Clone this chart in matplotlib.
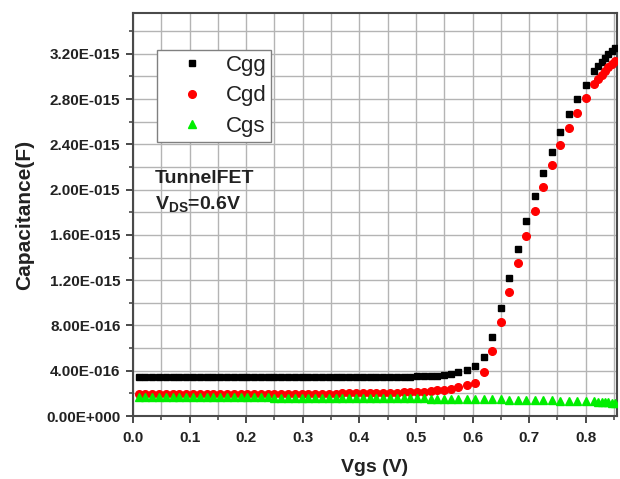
import matplotlib
matplotlib.use('Agg')
import matplotlib.pyplot as plt
from matplotlib.ticker import MultipleLocator, FuncFormatter

plt.rcParams['font.family'] = ['Liberation Sans', 'DejaVu Sans']
plt.rcParams['mathtext.fontset'] = 'custom'
plt.rcParams['mathtext.rm'] = 'Liberation Sans'
plt.rcParams['mathtext.bf'] = 'Liberation Sans:bold'

# gate voltage (V)
vgs = [0.010, 0.022, 0.034, 0.046, 0.058, 0.070, 0.082, 0.094, 0.106, 0.118,
       0.130, 0.142, 0.154, 0.166, 0.178, 0.190, 0.202, 0.214, 0.226, 0.238,
       0.250, 0.262, 0.274, 0.286, 0.298, 0.310, 0.322, 0.334, 0.346, 0.358,
       0.370, 0.382, 0.394, 0.406, 0.418, 0.430, 0.442, 0.454, 0.466, 0.478,
       0.490, 0.502, 0.514, 0.526, 0.538, 0.550, 0.562,
       0.575, 0.590, 0.605, 0.620, 0.635, 0.650, 0.665, 0.680, 0.695, 0.710,
       0.725, 0.740, 0.755, 0.770, 0.785, 0.800, 0.815,
       0.822, 0.828, 0.834, 0.840, 0.846, 0.852]

# capacitances in units of 1e-16 F
cgg = [3.46, 3.45, 3.45, 3.45, 3.44, 3.45, 3.45, 3.44, 3.44, 3.44,
       3.44, 3.44, 3.43, 3.43, 3.43, 3.43, 3.43, 3.43, 3.42, 3.42,
       3.42, 3.42, 3.42, 3.42, 3.42, 3.42, 3.42, 3.42, 3.42, 3.42,
       3.42, 3.42, 3.42, 3.43, 3.43, 3.43, 3.44, 3.45, 3.46, 3.47,
       3.48, 3.50, 3.52, 3.54, 3.57, 3.61, 3.68,
       3.85, 4.10, 4.45, 5.25, 7.00, 9.55, 12.2, 14.75, 17.2, 19.4,
       21.5, 23.35, 25.1, 26.65, 28.0, 29.25, 30.45,
       30.95, 31.3, 31.65, 31.95, 32.25, 32.55]

cgd = [1.95, 1.95, 1.95, 1.95, 1.95, 1.95, 1.95, 1.95, 1.95, 1.95,
       1.95, 1.95, 1.95, 1.95, 1.95, 1.95, 1.95, 1.95, 1.95, 1.95,
       1.95, 1.95, 1.95, 1.95, 1.95, 1.96, 1.97, 1.97, 1.98, 1.98,
       1.99, 2.00, 2.00, 2.01, 2.02, 2.03, 2.04, 2.05, 2.06, 2.08,
       2.10, 2.13, 2.16, 2.20, 2.26, 2.33, 2.42,
       2.55, 2.72, 2.95, 3.85, 5.75, 8.30, 10.95, 13.5, 15.9, 18.15,
       20.2, 22.2, 23.9, 25.45, 26.8, 28.1, 29.3,
       29.75, 30.1, 30.45, 30.8, 31.1, 31.35]

cgs = [1.70, 1.70, 1.69, 1.69, 1.69, 1.68, 1.68, 1.68, 1.67, 1.67,
       1.67, 1.66, 1.66, 1.66, 1.65, 1.65, 1.65, 1.64, 1.64, 1.64,
       1.63, 1.63, 1.63, 1.62, 1.62, 1.62, 1.61, 1.61, 1.61, 1.60,
       1.60, 1.60, 1.59, 1.59, 1.59, 1.58, 1.58, 1.57, 1.57, 1.56,
       1.56, 1.55, 1.55, 1.54, 1.54, 1.53, 1.53,
       1.52, 1.51, 1.50, 1.49, 1.48, 1.46, 1.45, 1.44, 1.42, 1.41,
       1.39, 1.38, 1.36, 1.35, 1.33, 1.31, 1.29,
       1.27, 1.25, 1.23, 1.21, 1.19, 1.17]

scale = 1e-16
series_names = ['Cgg', 'Cgd', 'Cgs']


def sci_fmt(v, pos):
    if abs(v) < 1e-30:
        return '0.00E+000'
    s = f'{v:.2E}'
    mant, exp = s.split('E')
    sign = '-' if exp[0] == '-' else '+'
    return f'{mant}E{sign}{int(exp[1:]):03d}'


fig = plt.figure(figsize=(6.2, 4.79), dpi=100)
ax = fig.add_axes([0.2145, 0.1315, 0.7805, 0.8414])

ax.plot(vgs, [v * scale for v in cgg], ls='none', marker='s', ms=5, color='black',
        label=series_names[0], zorder=3)
ax.plot(vgs, [v * scale for v in cgd], ls='none', marker='o', ms=5.5, color='#ff0000',
        label=series_names[1], zorder=4)
ax.plot(vgs, [v * scale for v in cgs], ls='none', marker='^', ms=5.5, color='#00ee00',
        label=series_names[2], zorder=5)

ax.set_xlim(0, 0.855)
ax.set_ylim(0, 3.56e-15)
ax.xaxis.set_major_locator(MultipleLocator(0.1))
ax.xaxis.set_minor_locator(MultipleLocator(0.05))
ax.yaxis.set_major_locator(MultipleLocator(4e-16))
ax.yaxis.set_minor_locator(MultipleLocator(2e-16))
ax.yaxis.set_major_formatter(FuncFormatter(sci_fmt))
ax.xaxis.set_major_formatter(FuncFormatter(lambda v, p: f'{v:.1f}'))

ax.grid(which='both', color='#b4b4b4', lw=1.0, zorder=0)
ax.set_axisbelow(True)

for sp in ax.spines.values():
    sp.set_color('#4a4a4a')
    sp.set_linewidth(1.5)

ax.tick_params(which='major', direction='out', length=5, width=1.4, color='#4a4a4a',
               labelsize=11, pad=4)
ax.tick_params(which='minor', direction='out', length=3, width=1.2, color='#4a4a4a')
ax.tick_params(axis='x', which='major', pad=6)
for lab in ax.get_xticklabels() + ax.get_yticklabels():
    lab.set_fontweight('bold')
    lab.set_color('#222222')

ax.set_xlabel('Vgs (V)', fontsize=14, fontweight='bold', color='#222222', labelpad=10)
ax.set_ylabel('Capacitance(F)', fontsize=15, fontweight='bold', color='#222222', labelpad=9)

leg = ax.legend(loc='upper left', bbox_to_anchor=(0.05, 0.908), borderaxespad=0,
                fontsize=16, frameon=True, fancybox=False, numpoints=1,
                handlelength=2.7, handletextpad=0.15, borderpad=0.22, labelspacing=0.42,
                markerscale=1.0)
leg.get_frame().set_edgecolor('#808080')
leg.get_frame().set_linewidth(1.0)
leg.get_frame().set_alpha(1.0)
for t in leg.get_texts():
    t.set_color('#222222')

ax.text(0.045, 0.59, 'TunnelFET', transform=ax.transAxes, fontsize=14,
        fontweight='bold', va='center', ha='left', color='#222222')
ax.text(0.045, 0.525, r'$\mathbf{V}_{\mathbf{DS}}$=0.6V', transform=ax.transAxes,
        fontsize=14, fontweight='bold', va='center', ha='left', color='#222222')

fig.savefig('out.png', dpi=100)
